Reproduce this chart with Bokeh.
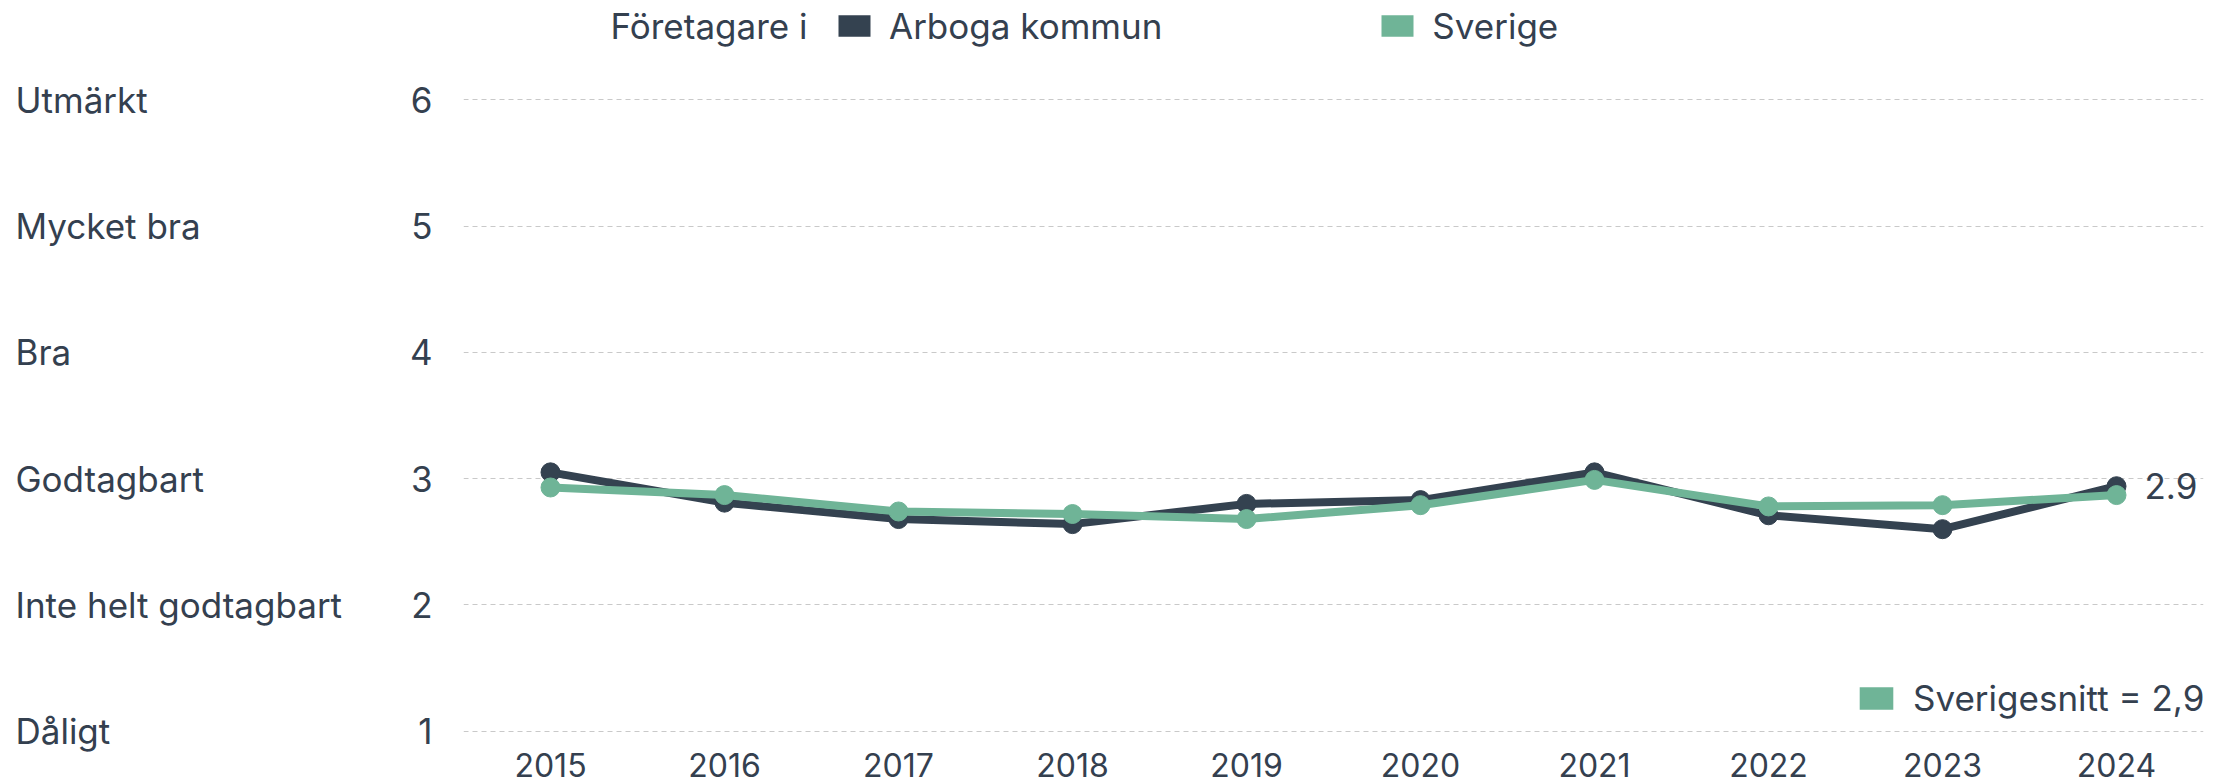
from bokeh.plotting import figure
from bokeh.layouts import row, column
from bokeh.models import Range1d, FixedTicker, Legend, LegendItem, Label
from bokeh.embed import file_html
from bokeh.resources import INLINE

# ---- data ----
years = [2015, 2016, 2017, 2018, 2019, 2020, 2021, 2022, 2023, 2024]
arboga = [3.05, 2.81, 2.68, 2.64, 2.80, 2.83, 3.05, 2.71, 2.60, 2.94]
sverige = [2.93, 2.87, 2.74, 2.72, 2.68, 2.79, 2.99, 2.78, 2.79, 2.87]
levels = [1, 2, 3, 4, 5, 6]
level_names = ["Dåligt", "Inte helt godtagbart", "Godtagbart", "Bra", "Mycket bra", "Utmärkt"]
legend_title = "Företagare i"
series_names = ["Arboga kommun", "Sverige"]
avg_name = "Sverigesnitt"

FONT = "Inter"
TEXT = "#34404f"
DARK = "#344250"
GREEN = "#6fb497"
FS = "35px"

W, H = 2229, 783
TOP_H = 78            # header strip with the legend
NAMES_W = 380         # strip with the level names
MAIN_W = W - NAMES_W
MAIN_H = H - TOP_H
BORDER_TOP, BORDER_BOTTOM = 20, 51
Y0, Y1 = 0.99, 6.01


def style_axis(ax, size):
    ax.axis_line_color = None
    ax.major_tick_line_color = None
    ax.minor_tick_line_color = None
    ax.major_tick_out = 0
    ax.major_tick_in = 0
    ax.minor_tick_out = 0
    ax.minor_tick_in = 0
    ax.major_label_text_font = FONT
    ax.major_label_text_color = TEXT
    ax.major_label_text_font_size = size


# ---- main chart ----
p = figure(width=MAIN_W, height=MAIN_H, output_backend="svg", toolbar_location=None,
           x_range=Range1d(2014.5, 2024.5), y_range=Range1d(Y0, Y1),
           min_border_left=83, min_border_right=26,
           min_border_top=BORDER_TOP, min_border_bottom=BORDER_BOTTOM)
p.outline_line_color = None
p.xgrid.grid_line_color = None
p.ygrid.ticker = FixedTicker(ticks=levels)
p.ygrid.grid_line_color = "#c9c9c9"
p.ygrid.grid_line_dash = "5 4"
p.ygrid.grid_line_width = 1

style_axis(p.xaxis[0], "32px")
style_axis(p.yaxis[0], FS)
p.xaxis.ticker = FixedTicker(ticks=years)
p.xaxis.major_label_standoff = 20
p.yaxis.ticker = FixedTicker(ticks=levels)
p.yaxis.major_label_standoff = 31

p.line(years, arboga, line_color=DARK, line_width=8, line_join="round")
p.scatter(years, arboga, size=19, color=DARK)
p.line(years, sverige, line_color=GREEN, line_width=8, line_join="round")
p.scatter(years, sverige, size=19, color=GREEN)

# swatch renderer for the average legend (zero size, outside the visible range)
qa = p.quad(left=years[:1], right=years[:1], top=[0], bottom=[0], fill_color=GREEN, line_color=None)
avg_text = f"{avg_name} = {sverige[-1]:.1f}".replace(".", ",")
leg2 = Legend(items=[LegendItem(label=avg_text, renderers=[qa])],
              location=(1392, 12.8), padding=0, margin=0,
              border_line_color=None, background_fill_alpha=0,
              glyph_width=42, glyph_height=28, label_standoff=16,
              label_text_font=FONT, label_text_font_size=FS, label_text_color=TEXT)
p.add_layout(leg2)

p.add_layout(Label(x=years[-1], y=arboga[-1], text=f"{arboga[-1]:.1f}", x_offset=28,
                   text_baseline="middle", text_align="left", text_font=FONT,
                   text_font_size=FS, text_color=TEXT))

# ---- level names: a right-hand axis of a narrow strip sharing the y scale ----
n = figure(width=NAMES_W, height=MAIN_H, output_backend="svg", toolbar_location=None,
           x_range=Range1d(0, 1), y_range=p.y_range,
           x_axis_type=None, y_axis_location="right",
           min_border_left=0, min_border_right=NAMES_W - 6,
           min_border_top=BORDER_TOP, min_border_bottom=BORDER_BOTTOM)
n.outline_line_color = None
n.ygrid.grid_line_color = None
style_axis(n.yaxis[0], FS)
n.yaxis.ticker = FixedTicker(ticks=levels)
n.yaxis.major_label_overrides = dict(zip(levels, level_names))
n.yaxis.major_label_standoff = 9

# ---- header strip with the series legend ----
t = figure(width=W, height=TOP_H, output_backend="svg", toolbar_location=None,
           x_range=Range1d(0, W), y_range=Range1d(0, TOP_H),
           x_axis_type=None, y_axis_type=None, min_border=0)
t.outline_line_color = None
q1 = t.quad(left=[-10], right=[-10], top=[-10], bottom=[-10], fill_color=DARK, line_color=None)
q2 = t.quad(left=[-10], right=[-10], top=[-10], bottom=[-10], fill_color=GREEN, line_color=None)
leg = Legend(items=[LegendItem(label=series_names[0], renderers=[q1]),
                    LegendItem(label=series_names[1], renderers=[q2])],
             orientation="horizontal", location=(834, 31.3), padding=0, margin=0,
             border_line_color=None, background_fill_alpha=0,
             glyph_width=40, glyph_height=27, label_standoff=15, spacing=215,
             label_text_font=FONT, label_text_font_size=FS, label_text_color=TEXT)
t.add_layout(leg)
t.add_layout(Label(x=610, y=52.5, text=legend_title, text_baseline="middle",
                   text_align="left", text_font=FONT, text_font_size=FS, text_color=TEXT))

layout = column(t, row(n, p, spacing=0), spacing=0)
open("out.html", "w", encoding="utf-8").write(file_html(layout, INLINE))
